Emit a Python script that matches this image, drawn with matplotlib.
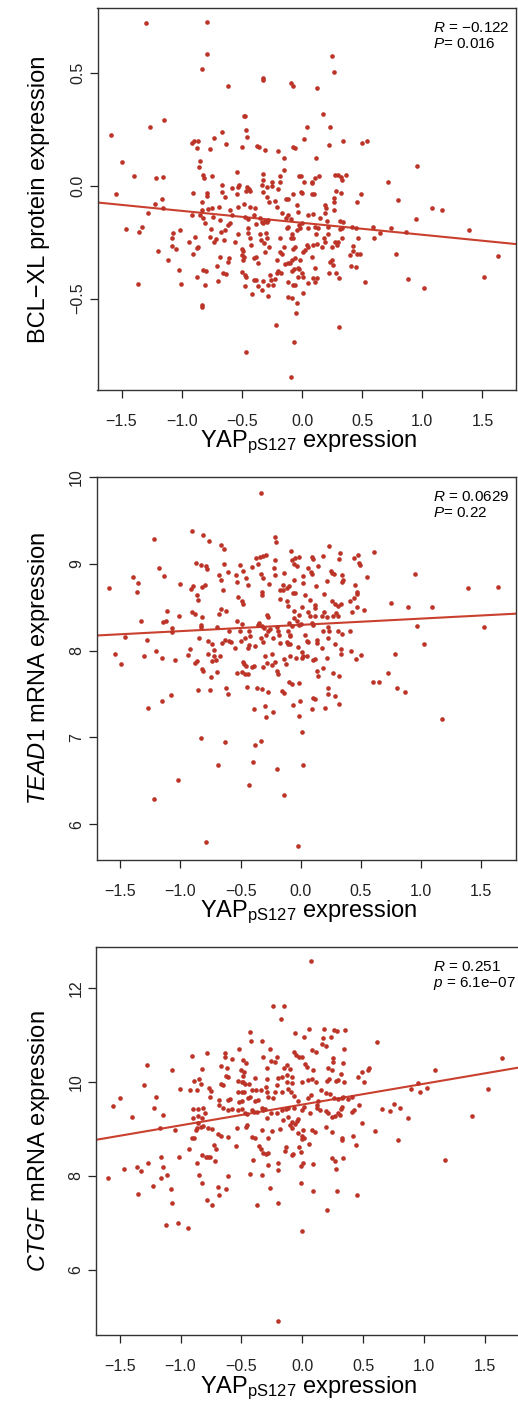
import matplotlib
matplotlib.use("Agg")
import matplotlib.pyplot as plt

plt.rcParams['font.family'] = ['Liberation Sans', 'DejaVu Sans']
plt.rcParams['mathtext.fontset'] = 'custom'
plt.rcParams['mathtext.rm'] = 'Liberation Sans'
plt.rcParams['mathtext.it'] = 'Liberation Sans:italic'
plt.rcParams['axes.unicode_minus'] = True

# ---- data: (YAP_pS127, expression) ----
bcl_points = [
    (-1.30, 0.721), (-0.787, 0.726), (-0.787, 0.585), (-0.828, 0.520), (0.249, 0.578), (0.263, 0.503),
    (-0.327, 0.479), (-0.321, 0.470), (-0.091, 0.457), (-0.072, 0.443), (-0.618, 0.442), (0.125, 0.433),
    (0.172, 0.319), (-0.485, 0.310), (-0.476, 0.312), (-1.144, 0.294), (-1.266, 0.263), (-1.590, 0.226),
    (0.042, 0.260), (0.233, 0.260), (-0.468, 0.248), (-0.457, 0.216), (-0.668, 0.238), (-0.729, 0.214),
    (0.017, 0.207), (-0.911, 0.192), (-0.900, 0.198), (-0.862, 0.197), (-0.870, 0.170), (-0.629, 0.186),
    (-0.762, 0.164), (-0.499, 0.174), (-0.374, 0.177), (-0.357, 0.174), (-0.310, 0.160), (-0.202, 0.157),
    (-0.078, 0.171), (-0.061, 0.170), (0.224, 0.180), (0.343, 0.198), (0.496, 0.192), (0.543, 0.201),
    (0.116, 0.123), (-0.150, 0.124), (-0.848, 0.111), (-0.856, 0.086), (-1.493, 0.108), (0.956, 0.090),
    (-0.147, 0.071), (-0.537, 0.062), (-1.393, 0.043), (-1.216, 0.035), (-1.158, 0.041), (-0.820, 0.047),
    (-0.817, 0.035), (-0.745, 0.046), (-0.327, 0.053), (-0.327, 0.027), (-0.252, 0.018), (-0.180, 0.046),
    (-0.183, 0.018), (-0.025, 0.044), (-0.008, 0.044), (0.017, 0.019), (0.080, 0.018), (0.086, 0.012),
    (0.111, 0.037), (0.141, 0.046), (0.274, 0.050), (0.302, 0.050), (0.321, 0.041), (0.335, 0.025),
    (0.363, 0.050), (0.717, 0.016), (-0.662, 0.004), (-0.668, -0.025), (-0.579, -0.009), (-0.535, -0.003),
    (-0.524, 0.003), (-0.460, -0.007), (-0.440, -0.013), (-0.429, -0.021), (-0.335, 0.003), (-0.327, -0.025),
    (-0.294, -0.004), (-0.247, -0.001), (-0.199, -0.013), (-0.011, -0.028), (0.003, -0.033), (0.080, -0.037),
    (0.100, -0.037), (0.280, -0.022), (0.324, -0.030), (0.488, -0.035), (-1.546, -0.034), (-0.909, -0.031),
    (-0.792, -0.033), (-0.789, -0.043), (-0.637, -0.049), (-0.537, -0.037), (-0.468, -0.021), (-0.075, -0.037),
    (-0.133, -0.058), (-0.114, -0.058), (-1.166, -0.056), (0.795, -0.063), (0.263, -0.055), (-0.291, -0.047),
    (-1.219, -0.081), (-1.152, -0.096), (-1.277, -0.121), (-0.834, -0.072), (-0.828, -0.106), (-0.784, -0.102),
    (-0.745, -0.099), (-0.848, -0.129), (-0.820, -0.143), (-0.806, -0.166), (-0.917, -0.129), (-0.737, -0.140),
    (-0.690, -0.092), (-0.684, -0.151), (-0.598, -0.106), (-0.584, -0.129), (-0.612, -0.173), (-0.598, -0.166),
    (-0.535, -0.095), (-0.479, -0.081), (-0.432, -0.092), (-0.391, -0.096), (-0.474, -0.136), (-0.446, -0.146),
    (-0.402, -0.129), (-0.349, -0.143), (-0.335, -0.158), (-0.321, -0.166), (-0.307, -0.155), (-0.294, -0.161),
    (-0.280, -0.151), (-0.380, -0.170), (-0.274, -0.072), (-0.224, -0.067), (-0.211, -0.092), (-0.169, -0.121),
    (-0.133, -0.143), (-0.114, -0.129), (-0.091, -0.146), (-0.044, -0.084), (-0.036, -0.114), (-0.003, -0.166),
    (-0.017, -0.188), (0.047, -0.129), (0.094, -0.126), (0.053, -0.185), (0.108, -0.180), (0.130, -0.188),
    (0.152, -0.143), (0.191, -0.121), (0.197, -0.099), (0.191, -0.084), (0.205, -0.155), (0.263, -0.072),
    (0.269, -0.106), (0.219, -0.180), (0.316, -0.155), (0.343, -0.161), (0.330, -0.185), (0.316, -0.191),
    (0.457, -0.072), (0.413, -0.180), (0.449, -0.188), (0.593, -0.180), (0.740, -0.188), (0.861, -0.205),
    (0.947, -0.146), (1.083, -0.096), (1.166, -0.108), (1.388, -0.197), (1.632, -0.310), (1.515, -0.402),
    (0.601, -0.229), (0.651, -0.210), (0.781, -0.303), (0.878, -0.412), (1.017, -0.454), (0.524, -0.424),
    (0.457, -0.303), (0.482, -0.303), (0.427, -0.288), (0.404, -0.355), (0.446, -0.358), (0.463, -0.229),
    (0.421, -0.265), (0.399, -0.306), (0.330, -0.229), (0.302, -0.247), (0.288, -0.262), (0.274, -0.247),
    (0.252, -0.269), (0.233, -0.336), (0.252, -0.328), (0.260, -0.350), (0.227, -0.387), (0.280, -0.387),
    (0.307, -0.409), (0.219, -0.214), (0.186, -0.232), (0.191, -0.247), (0.163, -0.273), (0.122, -0.259),
    (0.094, -0.262), (0.116, -0.214), (0.086, -0.313), (0.108, -0.362), (0.094, -0.409), (0.122, -0.409),
    (0.108, -0.427), (0.053, -0.432), (0.011, -0.476), (0.011, -0.402), (0.047, -0.269), (0.039, -0.262),
    (0.011, -0.291), (0.025, -0.284), (-0.017, -0.328), (-0.030, -0.362), (-0.058, -0.321), (-0.086, -0.328),
    (-0.100, -0.343), (-0.119, -0.343), (-0.141, -0.347), (-0.072, -0.232), (-0.091, -0.229), (-0.080, -0.214),
    (-0.058, -0.269), (-0.072, -0.279), (-0.044, -0.195), (-0.025, -0.173), (-0.119, -0.424), (-0.078, -0.439),
    (-0.058, -0.439), (-0.114, -0.491), (-0.086, -0.495), (-0.044, -0.520), (-0.053, -0.565), (-0.066, -0.690),
    (-0.094, -0.846), (-0.216, -0.616), (0.307, -0.624), (-0.465, -0.735), (-0.834, -0.528), (-0.828, -0.535),
    (-1.360, -0.435), (-1.463, -0.189), (-1.352, -0.203), (-1.332, -0.183), (-1.199, -0.288), (-1.116, -0.330),
    (-1.078, -0.229), (-1.069, -0.210), (-1.078, -0.266), (-1.050, -0.279), (-1.011, -0.194), (-1.022, -0.372),
    (-1.006, -0.436), (-0.936, -0.247), (-0.889, -0.225), (-0.909, -0.303), (-0.875, -0.276), (-0.867, -0.269),
    (-0.875, -0.402), (-0.820, -0.372), (-0.798, -0.377), (-0.806, -0.439), (-0.765, -0.225), (-0.759, -0.192),
    (-0.729, -0.247), (-0.717, -0.236), (-0.709, -0.353), (-0.695, -0.421), (-0.684, -0.313), (-0.673, -0.203),
    (-0.640, -0.195), (-0.645, -0.239), (-0.654, -0.387), (-0.632, -0.392), (-0.612, -0.336), (-0.604, -0.318),
    (-0.557, -0.247), (-0.529, -0.214), (-0.501, -0.281), (-0.488, -0.288), (-0.496, -0.306), (-0.479, -0.313),
    (-0.488, -0.328), (-0.501, -0.380), (-0.474, -0.395), (-0.465, -0.405), (-0.474, -0.442), (-0.446, -0.185),
    (-0.452, -0.207), (-0.429, -0.232), (-0.424, -0.262), (-0.418, -0.480), (-0.396, -0.321), (-0.382, -0.313),
    (-0.369, -0.343), (-0.402, -0.417), (-0.380, -0.417), (-0.363, -0.446), (-0.335, -0.461), (-0.349, -0.214),
    (-0.341, -0.239), (-0.299, -0.210), (-0.291, -0.232), (-0.274, -0.273), (-0.307, -0.294), (-0.313, -0.254),
    (-0.321, -0.421), (-0.285, -0.439), (-0.280, -0.486), (-0.269, -0.395), (-0.255, -0.417), (-0.238, -0.439),
    (-0.224, -0.412), (-0.211, -0.387), (-0.202, -0.377), (-0.208, -0.328), (-0.183, -0.294), (-0.169, -0.303),
    (-0.183, -0.232), (-0.150, -0.269), (-0.127, -0.188), (-0.114, -0.180), (-0.177, -0.387), (-0.086, -0.377),
    (-0.064, -0.368), (-0.030, -0.402), (-0.003, -0.387), (-0.025, -0.368),
]

tead_points = [
    (-0.327, 9.816), (-0.906, 9.376), (-0.812, 9.331), (-1.216, 9.289), (-0.759, 9.266), (-0.211, 9.312),
    (-0.205, 9.250), (-0.665, 9.220), (-0.637, 9.166), (0.233, 9.201), (-0.083, 9.147), (0.327, 9.120),
    (0.607, 9.132), (-0.371, 9.063), (-0.338, 9.082), (-0.310, 9.094), (-0.291, 9.097), (-0.216, 9.044),
    (-0.047, 9.071), (-0.014, 9.082), (-0.075, 9.044), (0.094, 9.082), (0.105, 9.052), (0.183, 9.090),
    (0.446, 9.067), (0.476, 9.097), (0.482, 9.014), (0.493, 8.987), (0.321, 9.052), (-0.873, 9.014),
    (-0.828, 8.987), (-0.789, 8.976), (-0.781, 8.937), (-0.634, 8.998), (-1.175, 8.956), (-0.504, 8.987),
    (-0.476, 8.922), (-0.407, 8.968), (-0.357, 8.998), (-0.219, 8.949), (-0.213, 8.872), (-0.136, 8.899),
    (-0.055, 8.998), (-0.033, 8.976), (0.022, 8.861), (0.022, 8.777), (0.064, 8.949), (0.086, 8.910),
    (0.097, 8.884), (0.147, 8.976), (0.249, 8.922), (0.263, 8.899), (0.277, 8.884), (0.216, 8.807),
    (0.341, 8.872), (0.355, 8.815), (0.346, 8.796), (0.554, 8.853), (0.950, 8.888), (-1.393, 8.846),
    (-1.352, 8.777), (-1.357, 8.681), (-1.593, 8.720), (-1.138, 8.861), (-1.000, 8.769), (-0.909, 8.708),
    (-0.898, 8.739), (-0.817, 8.731), (-0.795, 8.758), (-0.679, 8.868), (-0.662, 8.815), (-0.643, 8.693),
    (-0.601, 8.903), (-0.540, 8.872), (-0.532, 8.796), (-0.454, 8.834), (-0.435, 8.758), (-0.330, 8.880),
    (-0.310, 8.842), (-0.266, 8.769), (-0.324, 8.681), (-0.147, 8.754), (-0.116, 8.716), (-0.097, 8.746),
    (-0.144, 8.693), (-0.172, 8.700), (-0.061, 8.666), (-0.053, 8.815), (0.127, 8.750), (0.452, 8.758),
    (0.465, 8.670), (1.393, 8.720), (1.643, 8.731),
    (-0.864, 8.643), (-0.856, 8.586), (-0.518, 8.613), (-0.490, 8.575), (-0.476, 8.537), (-0.324, 8.636),
    (-0.172, 8.598), (-0.116, 8.575), (-0.102, 8.510), (-0.047, 8.663), (-0.053, 8.453), (0.036, 8.636),
    (0.078, 8.586), (0.119, 8.529), (0.197, 8.651), (0.258, 8.567), (0.285, 8.537), (0.307, 8.510),
    (0.335, 8.537), (0.410, 8.567), (0.446, 8.605), (0.465, 8.651), (0.529, 8.464), (0.751, 8.548),
    (0.889, 8.498), (1.089, 8.498), (0.424, 8.445), (0.465, 8.498), (0.008, 8.498), (0.064, 8.445),
    (-0.662, 8.483), (-0.676, 8.422), (-0.621, 8.460), (-0.903, 8.445), (-0.881, 8.422), (-0.820, 8.384),
    (-0.826, 8.300), (-0.826, 8.269), (-1.008, 8.395), (-1.113, 8.453), (-1.119, 8.338), (-1.141, 8.326),
    (-1.327, 8.346), (-1.072, 8.262), (-1.066, 8.216), (-1.460, 8.158), (-1.274, 8.128), (-1.543, 7.964),
    (-1.493, 7.841), (-1.299, 7.937), (-1.202, 7.994), (-1.155, 7.918), (-1.044, 7.887), (-0.934, 7.948),
    (-0.920, 8.014), (-0.878, 7.861), (-0.864, 7.880), (-0.820, 7.784), (-0.809, 7.765), (-0.842, 8.147),
    (-0.767, 8.109), (-0.734, 8.071), (-0.767, 7.956), (-0.720, 7.937), (-0.734, 7.880), (-0.701, 7.887),
    (-0.673, 7.937), (-0.720, 8.002), (-0.742, 7.696), (-0.692, 7.757), (-0.850, 7.548), (-0.753, 7.548),
    (-0.621, 7.574), (-0.607, 7.498), (-0.698, 8.269), (-0.629, 8.117), (-0.596, 8.109), (-0.579, 8.101),
    (-0.657, 8.090), (-0.593, 8.231), (-0.532, 8.338), (-0.490, 8.308), (-0.501, 8.223), (-0.546, 8.025),
    (-0.496, 8.109), (-0.463, 8.147), (-0.429, 8.231), (-0.421, 8.166), (-0.429, 8.063), (-0.435, 8.025),
    (-0.476, 7.872), (-0.471, 7.849), (-0.457, 7.822), (-0.407, 7.811), (-0.385, 7.822), (-0.526, 7.746),
    (-0.490, 7.757), (-0.463, 7.727), (-0.440, 7.727), (-0.446, 7.586), (-0.363, 7.567), (-0.324, 7.555),
    (-0.385, 7.326), (-0.355, 8.300), (-0.346, 8.319), (-0.324, 8.281), (-0.302, 8.262), (-0.283, 8.407),
    (-0.274, 8.384), (-0.269, 8.223), (-0.291, 8.185), (-0.255, 8.250), (-0.330, 8.147), (-0.310, 8.101),
    (-0.380, 8.052), (-0.296, 7.937), (-0.283, 7.861), (-0.241, 7.838), (-0.310, 7.811), (-0.241, 7.956),
    (-0.199, 8.269), (-0.191, 8.223), (-0.227, 8.147), (-0.180, 8.185), (-0.169, 8.090), (-0.213, 7.872),
    (-0.199, 7.765), (-0.191, 7.727), (-0.136, 7.899), (-0.125, 7.841), (-0.158, 7.536), (-0.136, 7.517),
    (-0.269, 7.528), (-0.296, 7.364), (-0.233, 7.288), (-0.288, 7.238), (-0.097, 8.319), (-0.075, 8.281),
    (-0.055, 8.376), (-0.033, 8.338), (-0.014, 8.414), (-0.014, 8.300), (0.003, 8.308), (-0.108, 8.223),
    (-0.086, 8.185), (-0.113, 8.101), (-0.091, 8.166), (-0.086, 8.078), (-0.102, 8.071), (-0.019, 8.040),
    (-0.089, 7.937), (-0.042, 7.918), (-0.094, 7.643), (-0.069, 7.612), (-0.014, 7.631), (-0.064, 7.376),
    (-0.006, 7.421), (-0.014, 7.250), (0.014, 7.987), (0.022, 7.937), (0.036, 8.185), (0.050, 8.109),
    (0.058, 8.101), (0.105, 8.300), (0.097, 8.319), (0.119, 8.395), (0.078, 8.395), (0.119, 8.491),
    (0.133, 8.128), (0.133, 8.090), (0.175, 8.395), (0.197, 8.445), (0.216, 8.384), (0.188, 8.231),
    (0.230, 8.269), (0.235, 8.223), (0.271, 8.395), (0.291, 8.433), (0.313, 8.395), (0.224, 8.147),
    (0.341, 8.193), (0.313, 8.231), (0.285, 8.078), (0.175, 8.033), (0.335, 8.014), (0.335, 7.956),
    (0.410, 8.231), (0.418, 7.998), (0.460, 7.899), (0.501, 7.948), (0.008, 7.910), (0.050, 7.937),
    (0.105, 7.887), (0.119, 7.899), (0.133, 7.765), (0.147, 7.708), (0.188, 7.803), (0.216, 7.918),
    (0.271, 7.746), (0.321, 7.708), (0.224, 7.567), (0.224, 7.505), (0.285, 7.479), (0.321, 7.390),
    (0.100, 7.459), (0.119, 7.440), (0.091, 7.326), (0.202, 7.337), (0.604, 7.639), (0.654, 7.639),
    (0.723, 7.742), (0.784, 7.956), (0.798, 7.567), (0.867, 7.528), (0.964, 8.281), (1.025, 8.078),
    (1.526, 8.269), (1.172, 7.211), (-1.078, 7.490), (-1.155, 7.421), (-1.266, 7.345),
    (0.008, 7.063), (-0.831, 6.994), (-0.626, 6.952), (-0.380, 6.918), (-0.330, 6.960), (-0.690, 6.688),
    (-0.396, 6.719), (-0.199, 6.639), (0.022, 6.688), (-1.022, 6.505), (-0.427, 6.448), (-0.141, 6.334),
    (-1.219, 6.295), (-0.784, 5.791), (-0.025, 5.745),
]

ctgf_points = [
    (0.071, 12.574), (-0.244, 11.624), (-0.148, 11.617), (-0.175, 11.340), (0.052, 11.121), (0.181, 11.121),
    (0.263, 11.106), (0.287, 11.085), (0.350, 11.106), (-0.427, 11.057), (-0.063, 11.035), (0.014, 10.965),
    (0.172, 10.943), (0.233, 10.965), (-0.421, 10.872), (-0.334, 10.872), (0.159, 10.801), (0.194, 10.773),
    (0.610, 10.858), (-0.517, 10.702), (-0.268, 10.702), (0.077, 10.681), (0.109, 10.645), (0.339, 10.709),
    (-0.066, 10.631), (-0.049, 10.574), (-0.025, 10.539), (-0.005, 10.539), (-0.903, 10.560), (-0.785, 10.610),
    (-0.638, 10.610), (-0.635, 10.539), (-0.580, 10.489), (-0.484, 10.468), (-0.462, 10.397), (-0.320, 10.539),
    (-0.211, 10.539), (-0.257, 10.447), (-0.224, 10.418), (-0.287, 10.291), (-1.278, 10.362), (-1.067, 10.248),
    (-0.826, 10.270), (-0.668, 10.348), (-0.618, 10.291), (-0.624, 10.135), (-0.503, 10.255), (-0.476, 10.206),
    (-0.490, 10.135), (-0.129, 10.362), (-0.148, 10.291), (-0.101, 10.277), (-0.129, 10.149), (-0.088, 10.113),
    (0.022, 10.376), (0.036, 10.326), (0.090, 10.255), (0.214, 10.291), (0.241, 10.255), (0.255, 10.518),
    (0.249, 10.433), (0.331, 10.397), (0.317, 10.163), (0.487, 10.206), (0.536, 10.255), (0.547, 10.291),
    (1.089, 10.248), (1.642, 10.504), (-0.892, 10.021), (-0.845, 10.064), (-0.831, 9.950), (-0.668, 9.950),
    (-0.652, 9.936), (-0.763, 9.865), (-0.752, 9.816), (-0.608, 10.106), (-0.531, 10.021), (-0.498, 9.993),
    (-0.490, 10.007), (-0.471, 9.950), (-0.438, 9.950), (-0.389, 10.078), (-0.293, 10.064), (-0.301, 9.901),
    (-0.203, 10.078), (-0.170, 10.113), (-0.211, 9.936), (-0.129, 9.993), (-0.088, 9.972), (-0.005, 10.007),
    (0.044, 10.043), (0.077, 10.064), (0.109, 10.007), (0.205, 10.021), (0.219, 10.064), (0.274, 10.021),
    (0.296, 10.043), (0.339, 10.007), (0.460, 10.113), (0.509, 10.007), (-1.297, 9.936), (-1.004, 9.851),
    (-0.920, 9.830), (-0.867, 9.830), (0.892, 9.851), (0.952, 9.972), (0.966, 9.780), (1.021, 9.879),
    (1.527, 9.851), (-1.494, 9.652), (-1.204, 9.688), (-0.758, 9.688), (-0.684, 9.617), (-0.608, 9.617),
    (-0.594, 9.631), (-0.531, 9.794), (-0.498, 9.794), (-0.476, 9.794), (-0.416, 9.830), (-0.383, 9.830),
    (-0.342, 9.830), (-0.520, 9.582), (-0.493, 9.596), (-0.449, 9.667), (-0.430, 9.688), (-0.389, 9.596),
    (-0.367, 9.610), (-0.293, 9.794), (-0.279, 9.688), (-0.224, 9.794), (-0.238, 9.652), (-0.170, 9.794),
    (-0.115, 9.851), (-0.093, 9.794), (-0.071, 9.709), (-0.033, 9.596), (0.049, 9.652), (0.071, 9.723),
    (0.126, 9.596), (0.118, 9.511), (0.151, 9.830), (0.192, 9.773), (0.227, 9.738), (0.263, 9.667),
    (0.290, 9.638), (0.323, 9.652), (0.337, 9.688), (0.378, 9.638), (0.405, 9.688), (0.465, 9.511),
    (-1.552, 9.482), (-1.218, 9.454), (-1.141, 9.298), (-1.396, 9.255), (-0.900, 9.418), (-0.859, 9.426),
    (-0.813, 9.440), (-0.895, 9.227), (-0.854, 9.284), (-0.826, 9.241), (-0.799, 9.333), (-0.684, 9.511),
    (-0.649, 9.440), (-0.608, 9.404), (-0.580, 9.426), (-0.525, 9.404), (-0.498, 9.426), (-0.471, 9.348),
    (-0.457, 9.312), (-0.416, 9.404), (-0.394, 9.369), (-0.375, 9.369), (-0.334, 9.454), (-0.320, 9.404),
    (-0.307, 9.426), (-0.293, 9.227), (-0.257, 9.333), (-0.211, 9.333), (-0.170, 9.404), (-0.137, 9.418),
    (-0.115, 9.440), (-0.066, 9.454), (-0.156, 9.191), (-0.115, 9.262), (-0.088, 9.156), (-0.047, 9.170),
    (-0.033, 9.213), (-0.005, 9.404), (0.016, 9.461), (0.063, 9.333), (0.118, 9.440), (0.145, 9.404),
    (0.192, 9.383), (0.214, 9.333), (0.246, 9.262), (0.268, 9.284), (0.290, 9.333), (0.309, 9.298),
    (0.317, 9.426), (0.323, 9.475), (0.405, 9.369), (0.427, 9.404), (0.657, 9.426), (0.720, 9.390),
    (0.753, 9.525), (0.802, 9.454), (0.865, 9.227), (1.396, 9.284), (-1.169, 9.014), (-1.045, 8.979),
    (-0.876, 8.979), (-0.867, 9.028), (-0.854, 9.121), (-0.831, 9.050), (-0.813, 9.071), (-0.771, 9.028),
    (-0.744, 9.000), (-0.909, 8.816), (-0.887, 8.801), (-0.690, 8.887), (-0.668, 8.858), (-0.613, 8.837),
    (-0.539, 9.028), (-0.465, 9.050), (-0.457, 9.085), (-0.416, 8.837), (-0.389, 8.816), (-0.334, 8.979),
    (-0.285, 8.816), (-0.252, 8.957), (-0.183, 9.000), (-0.101, 9.085), (-0.088, 9.028), (-0.060, 9.099),
    (-0.033, 8.908), (-0.005, 8.858), (0.008, 8.979), (0.077, 8.979), (0.104, 8.943), (0.194, 9.050),
    (0.246, 8.943), (0.323, 8.816), (0.323, 8.766), (0.418, 8.858), (0.487, 9.121), (0.596, 8.957),
    (0.788, 8.766), (-0.005, 8.787), (0.016, 8.816),
    (-0.725, 8.660), (-0.706, 8.567), (-0.545, 8.638), (-0.356, 8.638), (-0.339, 8.567), (-0.320, 8.482),
    (-0.301, 8.468), (-0.285, 8.482), (-0.137, 8.624), (-0.142, 8.532), (-0.025, 8.624), (-0.014, 8.504),
    (0.055, 8.681), (-0.088, 8.447), (-0.074, 8.461), (-0.928, 8.574), (-0.826, 8.454), (-0.790, 8.411),
    (-0.771, 8.411), (-0.755, 8.411), (-1.010, 8.411), (-1.158, 8.397), (-0.867, 8.284), (-0.720, 8.326),
    (-1.267, 8.284), (-1.464, 8.149), (-1.360, 8.184), (-1.327, 8.106), (-1.144, 8.184), (-1.593, 7.965),
    (-1.158, 7.965), (-1.111, 8.028), (-1.226, 7.787), (-1.352, 7.617), (-1.078, 7.716), (-1.073, 7.418),
    (-1.117, 6.965), (-1.024, 7.007), (-0.936, 6.894), (-0.851, 8.021), (-0.826, 7.844), (-0.782, 7.496),
    (-0.744, 7.383), (-0.690, 7.759), (-0.684, 7.603), (-0.627, 7.716), (-0.608, 8.007), (-0.401, 8.333),
    (-0.430, 8.043), (-0.334, 8.021), (-0.279, 8.234), (-0.203, 8.284), (-0.197, 8.128), (-0.268, 7.752),
    (-0.375, 7.383), (-0.197, 7.426), (-0.011, 7.844), (-0.011, 8.220), (0.008, 8.284), (0.090, 8.248),
    (0.090, 7.688), (-0.003, 6.823), (0.205, 7.284), (0.246, 8.376), (0.268, 8.326), (0.274, 8.156),
    (0.337, 8.376), (0.287, 7.674), (0.452, 7.589), (0.443, 8.660), (1.171, 8.340), (-0.200, 4.908),
]

# regression lines (intercept, slope) and statistics as printed
fit_lines = [(-0.1636, -0.053), (8.297, 0.0721), (9.520, 0.443)]
stat_r = [r'$R$ = $-$0.122', r'$R$ = 0.0629', r'$R$ = 0.251']
stat_p = [r'$P$= 0.016', r'$P$= 0.22', r'$p$ = 6.1e$-$07']

y_labels = ['BCL\u2212XL protein expression',
            r'$\mathit{TEAD1}$ mRNA expression',
            r'$\mathit{CTGF}$ mRNA expression']
x_label = r'$\mathrm{YAP}_{\mathrm{pS127}}$ expression'

x_ticks = [-1.5, -1.0, -0.5, 0.0, 0.5, 1.0, 1.5]
y_ticks = [[-0.5, 0.0, 0.5], [6, 7, 8, 9, 10], [6, 8, 10, 12]]
y_tick_labels = [['\u22120.5', '0.0', '0.5'], ['6', '7', '8', '9', '10'], ['6', '8', '10', '12']]

x_limits = [(-1.700, 1.776), (-1.696, 1.787), (-1.694, 1.869)]
y_limits = [(-0.905, 0.789), (5.589, 9.976), (4.617, 12.872)]

# panel boxes in pixels: left, right, top, bottom
W, H = 518, 1402
boxes = [(97.5, 515.7, 8, 390), (96.7, 515.7, 477, 860), (96, 530, 947, 1335)]

dot_color = '#BC3428'
line_color = '#C9402F'

fig = plt.figure(figsize=(W / 100, H / 100), dpi=100)

for i, pts in enumerate([bcl_points, tead_points, ctgf_points]):
    left, right, top, bottom = boxes[i]
    ax = fig.add_axes([left / W, 1 - bottom / H, (right - left) / W, (bottom - top) / H])
    xs = [p[0] for p in pts]
    ys = [p[1] for p in pts]
    ax.scatter(xs, ys, s=11, color=dot_color, linewidths=0, zorder=3)
    a, b = fit_lines[i]
    ax.axline((0, a), slope=b, color=line_color, lw=1.5, zorder=2)

    ax.set_xlim(*x_limits[i])
    ax.set_ylim(*y_limits[i])
    ax.set_xticks(x_ticks, ['\u2212%.1f' % -t if t < 0 else '%.1f' % t for t in x_ticks])
    ax.set_yticks(y_ticks[i], y_tick_labels[i])
    ax.tick_params(axis='both', direction='out', length=6, width=0.9, color='#222222',
                   labelsize=11.5, labelcolor='#222222')
    ax.tick_params(axis='x', pad=11)
    ax.tick_params(axis='y', pad=3)
    for t in ax.get_yticklabels():
        t.set_rotation(90)
        t.set_va('center')
    for s in ax.spines.values():
        s.set_linewidth(1.0)
        s.set_color('#333333')

    pw = right - left
    ph = bottom - top
    ax.set_xlabel(x_label, fontsize=17, va='baseline')
    ax.xaxis.set_label_coords((309 - left) / pw, -(447 - 390) / 382.0)
    ax.set_ylabel(y_labels[i], fontsize=17, va='baseline')
    ax.yaxis.set_label_coords((45 - left) / pw, 0.5)

    ax.text((433 - left) / pw, 1 - 24 / ph, stat_r[i], transform=ax.transAxes,
            fontsize=11, va='baseline', ha='left')
    ax.text((433 - left) / pw, 1 - 40 / ph, stat_p[i], transform=ax.transAxes,
            fontsize=11, va='baseline', ha='left')

fig.savefig('out.png', dpi=100)
